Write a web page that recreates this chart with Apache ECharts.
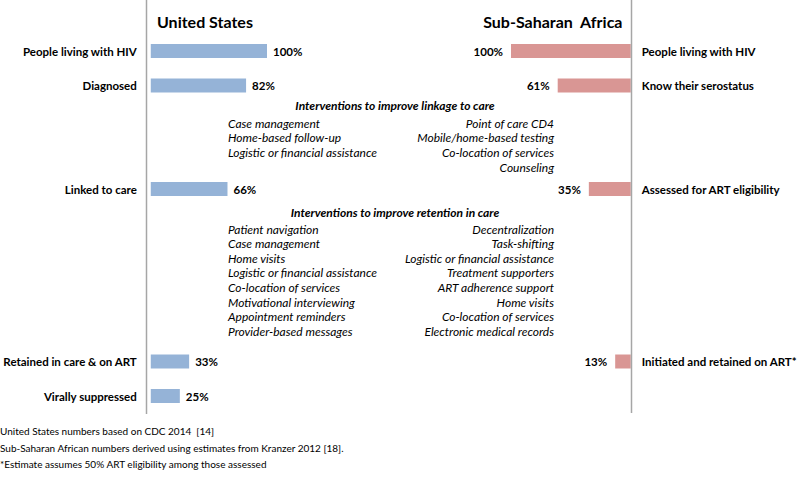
<!DOCTYPE html>
<html>
<head>
<meta charset="utf-8">
<script src="https://cdn.jsdelivr.net/npm/echarts@6/dist/echarts.min.js"></script>
<style>html,body{margin:0;padding:0;background:#fff}#c{width:800px;height:486px}</style>
</head>
<body>
<div id="c"></div>
<script>
// ---- data ----
const usTitle = 'United States';
const ssaTitle = 'Sub-Saharan  Africa';
const usCategories = ['People living with HIV', 'Diagnosed', '', '', 'Linked to care', '', '', '', '', 'Retained in care & on ART', 'Virally suppressed'];
const usValues = [100, 82, null, null, 66, null, null, null, null, 33, 25];
const ssaCategories = ['People living with HIV', 'Know their serostatus', '', '', 'Assessed for ART eligibility', '', '', '', '', 'Initiated and retained on ART*', ''];
const ssaValues = [100, 61, null, null, 35, null, null, null, null, 13, null];
const linkageHeading = 'Interventions to improve linkage to care';
const linkageUS = ['Case management', 'Home-based follow-up', 'Logistic or financial assistance'];
const linkageSSA = ['Point of care CD4', 'Mobile/home-based testing', 'Co-location of services', 'Counseling'];
const retentionHeading = 'Interventions to improve retention in care';
const retentionUS = ['Patient navigation', 'Case management', 'Home visits', 'Logistic or financial assistance', 'Co-location of services', 'Motivational interviewing', 'Appointment reminders', 'Provider-based messages'];
const retentionSSA = ['Decentralization', 'Task-shifting', 'Logistic or financial assistance', 'Treatment supporters', 'ART adherence support', 'Home visits', 'Co-location of services', 'Electronic medical records'];
const footnotes = ['United States numbers based on CDC 2014  [14]', 'Sub-Saharan African numbers derived using estimates from Kranzer 2012 [18].', '*Estimate assumes 50% ART eligibility among those assessed'];

// ---- styling / layout ----
const FONT = 'Lato, "Open Sans", sans-serif';
const BLUE = '#95B3D7';
const RED = '#D99694';
const AXIS = '#A6A6A6';
const gridTop = 33.75, gridH = 379.5;

const chart = echarts.init(document.getElementById('c'), null, {renderer: 'svg'});

const graphics = [];
graphics.push({type: 'line', shape: {x1: 146.5, y1: 0, x2: 146.5, y2: 414}, style: {stroke: AXIS, lineWidth: 1.5}, silent: true, z: 10});
graphics.push({type: 'line', shape: {x1: 631.5, y1: 0, x2: 631.5, y2: 413}, style: {stroke: AXIS, lineWidth: 1.5}, silent: true, z: 10});
function txt(t, x, y, align, font) {
  graphics.push({type: 'text', x: x, y: y, style: {text: t, fill: '#000', font: font, textAlign: align, textVerticalAlign: 'middle'}, silent: true});
}
const itFont = 'italic 12px ' + FONT;
const hdFont = 'italic bold 12px ' + FONT;
txt(linkageHeading, 395, 105, 'center', hdFont);
linkageUS.forEach((t, i) => txt(t, 228, 123 + i * 14.7, 'left', itFont));
linkageSSA.forEach((t, i) => txt(t, 554, 123 + i * 14.7, 'right', itFont));
txt(retentionHeading, 395, 212, 'center', hdFont);
retentionUS.forEach((t, i) => txt(t, 228, 229 + i * 14.6, 'left', itFont));
retentionSSA.forEach((t, i) => txt(t, 554, 229 + i * 14.6, 'right', itFont));
footnotes.forEach((t, i) => txt(t, 0, 431 + i * 16.5, 'left', '10px ' + FONT));

const labelStyle = {fontFamily: FONT, fontWeight: 'bold', fontSize: 11.5, color: '#000'};

chart.setOption({
  animation: false,
  title: [
    {text: usTitle, left: 152, top: 8, textStyle: {fontFamily: FONT, fontWeight: 'bold', fontSize: 16, color: '#000'}},
    {text: ssaTitle, right: 172, top: 8, textStyle: {fontFamily: FONT, fontWeight: 'bold', fontSize: 16, color: '#000'}}
  ],
  grid: [
    {left: 147, width: 120, top: gridTop, height: gridH},
    {left: 511, width: 121, top: gridTop, height: gridH}
  ],
  xAxis: [
    {gridIndex: 0, type: 'value', min: 0, max: 100, show: false},
    {gridIndex: 1, type: 'value', min: 0, max: 100, inverse: true, show: false}
  ],
  yAxis: [
    {gridIndex: 0, type: 'category', inverse: true, data: usCategories,
     axisLine: {show: false}, axisTick: {show: false}, splitLine: {show: false},
     axisLabel: Object.assign({margin: 14, interval: 0}, labelStyle)},
    {gridIndex: 1, type: 'category', inverse: true, position: 'right', data: ssaCategories,
     axisLine: {show: false}, axisTick: {show: false}, splitLine: {show: false},
     axisLabel: Object.assign({margin: 11, interval: 0}, labelStyle)}
  ],
  series: [
    {type: 'bar', xAxisIndex: 0, yAxisIndex: 0, data: usValues, barWidth: 14,
     itemStyle: {color: BLUE},
     label: Object.assign({show: true, position: 'right', distance: 6, formatter: '{c}%'}, labelStyle)},
    {type: 'bar', xAxisIndex: 1, yAxisIndex: 1, data: ssaValues, barWidth: 14,
     itemStyle: {color: RED},
     label: Object.assign({show: true, position: 'left', distance: 8, formatter: '{c}%'}, labelStyle)}
  ],
  graphic: graphics
});
</script>
</body>
</html>
